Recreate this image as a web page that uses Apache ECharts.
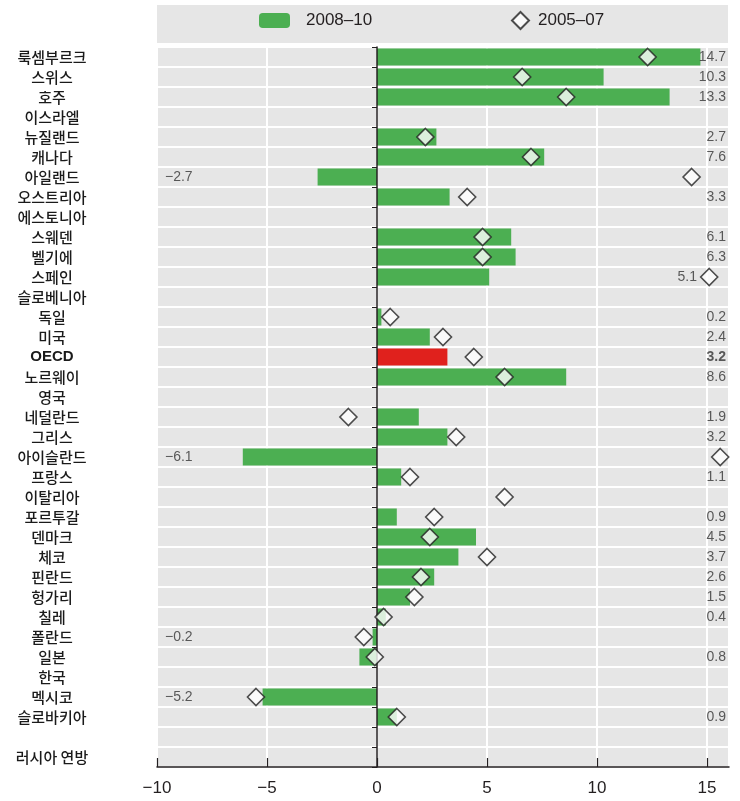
<!DOCTYPE html>
<html>
<head>
<meta charset="utf-8">
<script src="https://cdn.jsdelivr.net/npm/echarts@6/dist/echarts.min.js"></script>
<style>
html, body { margin: 0; padding: 0; background: #fff; }
#chart { width: 740px; height: 801px; }
</style>
</head>
<body>
<div id="chart"></div>
<script>
const countries = ['룩셈부르크', '스위스', '호주', '이스라엘', '뉴질랜드', '캐나다', '아일랜드', '오스트리아', '에스토니아',
    '스웨덴', '벨기에', '스페인', '슬로베니아', '독일', '미국', 'OECD', '노르웨이', '영국', '네덜란드', '그리스',
    '아이슬란드', '프랑스', '이탈리아', '포르투갈', '덴마크', '체코', '핀란드', '헝가리', '칠레', '폴란드', '일본',
    '한국', '멕시코', '슬로바키아', '', '러시아 연방'];

// 2008-10 (bars)
const growth0810 = [14.7, 10.3, 13.3, null, 2.7, 7.6, -2.7, 3.3, null, 6.1, 6.3, 5.1, null, 0.2, 2.4, 3.2, 8.6, null,
    1.9, 3.2, -6.1, 1.1, null, 0.9, 4.5, 3.7, 2.6, 1.5, 0.4, -0.2, -0.8, null, -5.2, 0.9, null, null];

// 2005-07 (diamonds)
const growth0507 = [12.3, 6.6, 8.6, null, 2.2, 7.0, 14.3, 4.1, null, 4.8, 4.8, 15.1, null, 0.6, 3.0, 4.4, 5.8, null,
    -1.3, 3.6, 15.6, 1.5, 5.8, 2.6, 2.4, 5.0, 2.0, 1.7, 0.3, -0.6, -0.1, null, -5.5, 0.9, null, null];

// printed value labels, as they appear in the chart
const valueLabels = ['14.7', '10.3', '13.3', '', '2.7', '7.6', '−2.7', '3.3', '', '6.1', '6.3', '5.1', '', '0.2', '2.4',
    '3.2', '8.6', '', '1.9', '3.2', '−6.1', '1.1', '', '0.9', '4.5', '3.7', '2.6', '1.5', '0.4', '−0.2', '0.8', '',
    '−5.2', '0.9', '', ''];

const seriesNames = ['2008–10', '2005–07'];
const xMin = -10, xMax = 16, xStep = 5;

const GREEN = '#4caf52';
const RED = '#e0211d';
const INK = '#231f20';
const numFont = "'Liberation Sans', Arial, sans-serif";

var barData = growth0810.map(function (v, i) {
    if (v == null) return '-';
    if (countries[i] === 'OECD') return { value: v, itemStyle: { color: RED } };
    return v;
});

var diamondData = [];
growth0507.forEach(function (v, i) {
    if (v != null) diamondData.push([v, i]);
});

var labelData = [];
valueLabels.forEach(function (t, i) {
    if (!t) return;
    var neg = t.charAt(0) === '−';
    var item = {
        value: [neg ? xMin : xMax, i],
        text: t,
        label: { position: neg ? 'right' : 'left', distance: neg ? 8 : 3 }
    };
    // move the label clear of a diamond sitting at the right edge
    if (!neg && growth0507[i] != null && growth0507[i] > 14.5) item.label.offset = [-29, 0];
    if (countries[i] === 'OECD') item.label.fontWeight = 'bold';
    labelData.push(item);
});

var chart = echarts.init(document.getElementById('chart'));
chart.setOption({
    animation: false,
    graphic: [{
        type: 'rect',
        z: -10,
        shape: { x: 157, y: 5, width: 571, height: 38 },
        style: { fill: '#e6e6e6' }
    }],
    legend: [{
        data: [seriesNames[0]],
        left: 259, top: 12, padding: 0,
        itemWidth: 31, itemHeight: 15,
        textStyle: { fontSize: 17, color: INK, fontFamily: numFont, padding: [0, 0, 0, 11] }
    }, {
        data: [seriesNames[1]],
        left: 511, top: 11, padding: 0,
        itemWidth: 17, itemHeight: 17,
        textStyle: { fontSize: 17, color: INK, fontFamily: numFont, padding: [0, 0, 0, 4] }
    }],
    grid: {
        left: 157, right: 11, top: 47, bottom: 34,
        show: true, backgroundColor: '#e6e6e6', borderWidth: 0,
        outerBoundsMode: 'none'
    },
    xAxis: {
        type: 'value',
        min: xMin, max: xMax, interval: xStep,
        axisLine: { show: true, onZero: false, lineStyle: { color: INK, width: 1.5 } },
        axisTick: { show: true, inside: true, length: 9, lineStyle: { color: INK, width: 1.2 } },
        axisLabel: {
            showMaxLabel: false,
            fontSize: 17, color: INK, fontFamily: numFont, margin: 13,
            formatter: function (v) { return v < 0 ? '−' + Math.abs(v) : String(v); }
        },
        splitLine: { show: true, lineStyle: { color: '#ffffff', width: 2 } }
    },
    yAxis: [{
        type: 'category',
        inverse: true,
        data: countries,
        position: 'left',
        axisLine: { show: false, onZero: false },
        axisTick: { show: false },
        axisLabel: {
            interval: 0, align: 'center', margin: 105,
            fontSize: 15, fontWeight: 500, color: '#1a1a1a', fontFamily: "'Noto Sans CJK KR', sans-serif",
            formatter: function (v) { return v === 'OECD' ? '{b|OECD}' : v; },
            rich: { b: { fontSize: 15, fontWeight: 'bold', color: '#1a1a1a', fontFamily: numFont } }
        },
        splitLine: { show: true, interval: 0, lineStyle: { color: '#ffffff', width: 2 } }
    }, {
        type: 'category',
        inverse: true,
        data: countries,
        position: 'left',
        z: 5,
        axisLine: { show: true, onZero: true, lineStyle: { color: INK, width: 1.5 } },
        axisTick: { show: true, interval: 0, length: 5, lineStyle: { color: INK, width: 1 } },
        axisLabel: { show: false },
        splitLine: { show: false }
    }],
    series: [{
        name: seriesNames[0],
        type: 'bar',
        yAxisIndex: 0,
        data: barData,
        barWidth: 17,
        itemStyle: { color: GREEN }
    }, {
        name: seriesNames[1],
        type: 'scatter',
        yAxisIndex: 0,
        z: 6,
        data: diamondData,
        symbol: 'diamond',
        symbolSize: 17,
        itemStyle: { color: '#ffffff', borderColor: '#222222', borderWidth: 1.6 }
    }, {
        name: 'labels',
        type: 'scatter',
        yAxisIndex: 0,
        silent: true,
        z: 7,
        symbolSize: 0,
        data: labelData,
        label: {
            show: true,
            fontSize: 14, color: '#333333', fontFamily: numFont,
            formatter: function (p) { return p.data.text; }
        }
    }]
});
</script>
</body>
</html>
